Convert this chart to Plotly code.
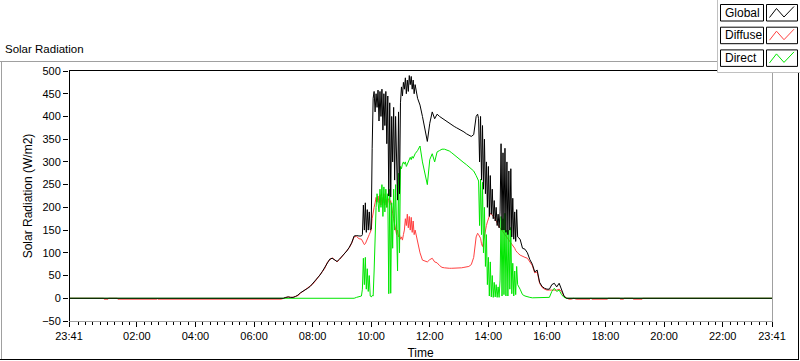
import plotly.graph_objects as go
import pandas as pd

DAY = "2024-01-02"
PREV = "2024-01-01"

# ---- day-time sampling segments: (start, step in minutes, count) ----
SEGMENTS = [("07:00", 5, 32), ("09:40", 2, 55), ("11:30", 5, 26), ("13:38", 2, 41), ("15:00", 5, 25)]

# ---- Global radiation (W/m2) ----
global_a = [0,2,3,2,2,4,7,12,15,18,22,26,32,38,44,51,59,68,80,86,88,84,81,86,92,97,104,112,122,137,138,137]
global_b = [137,140,205,150,210,145,195,150,190,150,
            152,330,440,455,410,450,420,458,390,455,
            400,460,370,450,380,455,340,445,225,430,
            223,400,300,420,260,400,300,216,410,230,
            430,465,445,475,460,485,450,480,455,490,
            470,488,460,480,450]
global_c = [470,440,425,400,370,345,385,410,395,405,400,396,392,388,385,382,378,375,372,370,366,362,358,356,360,400]
global_d = [405,395,300,400,260,380,240,350,230,300,
            200,290,180,270,185,240,175,215,170,200,
            160,185,155,190,340,150,320,150,330,145,
            300,140,280,150,285,135,220,130,190,125,
            195]
global_e = [135,130,110,108,100,85,75,58,62,35,26,22,20,20,30,33,25,33,20,5,0,0,0,0,0]

# ---- Diffuse radiation (W/m2) ----
diffuse_a = [0,2,3,2,2,4,6,11,15,18,21,26,31,37,44,50,58,66,79,85,89,85,80,85,91,97,104,111,121,135,136,131]
diffuse_b = [130,125,120,118,120,124,130,135,140,145,
             150,175,194,200,210,222,212,225,210,228,
             205,222,210,230,205,218,200,220,215,205,
             215,195,187,175,165,150,140,150,135,140,
             130,135,128,140,150,175,160,185,155,180,
             150,178,145,170,140]
diffuse_c = [150,125,100,84,82,80,85,88,80,78,72,68,67,66,66,66,66,66,67,67,68,69,70,74,90,135]
diffuse_d = [143,140,136,132,120,114,125,140,152,160,
             168,175,182,187,185,183,180,178,175,170,
             165,160,157,155,152,148,145,142,140,136,
             134,130,128,126,122,118,115,112,110,105,
             102]
diffuse_e = [100,95,92,90,88,80,72,56,58,33,24,20,18,18,18,18,18,20,15,4,0,-2,-2,0,-2]

# ---- Direct radiation (W/m2) ----
direct_a = [1,1,1,1,1,1,1,1,1,1,0,0,0,0,0,0,0,0,0,0,0,0,0,0,0,0,0,0,0,0,2,4]
direct_b = [5,20,88,30,90,20,65,15,50,5,
            3,6,5,60,150,200,230,210,190,240,
            200,250,180,245,190,240,200,230,10,240,
            11,210,110,240,150,250,170,60,275,100,
            290,285,295,300,295,300,290,295,300,305,
            310,305,312,308,315]
direct_c = [318,325,335,300,275,250,305,318,300,322,325,328,328,326,324,320,316,311,306,302,298,294,290,285,280,270]
direct_d = [262,258,160,262,140,255,100,200,70,140,
            30,90,5,80,3,50,2,35,3,30,
            2,25,2,40,180,5,175,8,187,5,
            150,5,150,20,156,10,77,5,60,8,
            70]
direct_e = [30,20,8,5,3,2,1,1,1,1,1,1,1,2,15,22,15,18,8,2,0,0,0,0,0]

# ---- night-time readings ----
night_am_times = [f"{PREV} 23:41", f"{DAY} 06:55"]
night_am_values = [0, 0]
night_pm_times = [f"{DAY} 17:05", f"{DAY} 23:41"]
night_pm_values = [0, 0]

diffuse_am_times = [f"{PREV} 23:41"] + [f"{DAY} {t}" for t in
                    ["00:52","00:53","01:01","01:02","01:20","01:21","02:41","02:42","02:43","06:55"]]
diffuse_am_values = [0,0,-2,-2,0,0,-2,-2,0,-2,-2]
diffuse_pm_times = [f"{DAY} {t}" for t in
                    ["17:05","17:28","17:29","17:31","17:32","18:04","18:05","18:29","18:30",
                     "18:37","18:38","18:56","18:57","19:15","19:16","23:41"]]
diffuse_pm_values = [-2,-2,0,0,-2,-2,0,0,-2,-2,0,0,-2,-2,0,0]

# ---- axis ticks ----
x_tick_times = [f"{PREV} 23:41"] + [f"{DAY} {h:02d}:00" for h in range(2, 23, 2)] + [f"{DAY} 23:41"]
x_tick_labels = ["23:41", "02:00", "04:00", "06:00", "08:00", "10:00", "12:00",
                 "14:00", "16:00", "18:00", "20:00", "22:00", "23:41"]
X_RANGE = [f"{PREV} 23:41", f"{DAY} 23:41"]
Y_RANGE = [-50, 500]


def day_times():
    out = []
    for start, step, n in SEGMENTS:
        t0 = pd.Timestamp(f"{DAY} {start}")
        out += [t0 + pd.Timedelta(minutes=step * i) for i in range(n)]
    return out


DT = day_times()
g_day = global_a + global_b + global_c + global_d + global_e
d_day = diffuse_a + diffuse_b + diffuse_c + diffuse_d + diffuse_e
b_day = direct_a + direct_b + direct_c + direct_d + direct_e
assert len(DT) == len(g_day) == len(d_day) == len(b_day)

to_ts = lambda lst: [pd.Timestamp(t) for t in lst]

fig = go.Figure()
fig.add_trace(go.Scatter(x=to_ts(diffuse_am_times) + DT + to_ts(diffuse_pm_times),
                         y=diffuse_am_values + d_day + diffuse_pm_values,
                         mode="lines", name="Diffuse", line=dict(color="#ff4040", width=1)))
fig.add_trace(go.Scatter(x=to_ts(night_am_times) + DT + to_ts(night_pm_times),
                         y=night_am_values + b_day + night_pm_values,
                         mode="lines", name="Direct", line=dict(color="#00e600", width=1)))
fig.add_trace(go.Scatter(x=to_ts(night_am_times) + DT + to_ts(night_pm_times),
                         y=night_am_values + g_day + night_pm_values,
                         mode="lines", name="Global", line=dict(color="#000000", width=1)))

# ---- layout geometry (pixels) ----
W, H = 800, 361
L, R, T, B = 69, 28, 71, 40
PW, PH = W - L - R, H - T - B


def px(x):
    return (x - L) / PW


def py(y):
    return (H - B - y) / PH


def line(x0, y0, x1, y1, color, width=1):
    return dict(type="line", xref="paper", yref="paper", x0=px(x0), y0=py(y0), x1=px(x1), y1=py(y1),
                line=dict(color=color, width=width), layer="above")


GRAY = "#a0a0a0"
shapes = [
    # outer panel
    line(0, 61.5, 717, 61.5, GRAY),
    line(1.5, 61.5, 1.5, 360, GRAY),
    line(0, 359.5, 799, 359.5, "#000000"),
    line(798.5, 72, 798.5, 360, "#000000"),
    # plot frame
    line(69, 70.5, 772.5, 70.5, "#000000"),
    line(69.5, 70.5, 69.5, 321.5, "#000000"),
    line(772.5, 70.5, 772.5, 321.5, GRAY),
    line(69.5, 321.5, 773, 321.5, GRAY),
    # legend panel
    dict(type="rect", xref="paper", yref="paper", x0=px(717.5), y0=py(72.5), x1=px(801), y1=py(-1),
         fillcolor="white", line=dict(width=0), layer="above"),
    line(717.5, 0, 717.5, 72.5, "#c0c0c0"),
    line(717.5, 72.5, 800, 72.5, "#c0c0c0"),
]

annotations = [
    dict(text="Solar Radiation", xref="paper", yref="paper", x=px(3), y=py(49.5), xanchor="left",
         yanchor="middle", showarrow=False, font=dict(size=11.5, color="black")),
]

legend_items = [("Global", "#000000"), ("Diffuse", "#ff4040"), ("Direct", "#00e600")]
for i, (name, color) in enumerate(legend_items):
    dy = i * 22.7
    top, bot = 4.5 + dy, 21 + dy
    shapes.append(dict(type="rect", xref="paper", yref="paper", x0=px(720.5), x1=px(763.5), y0=py(bot), y1=py(top),
                       fillcolor="white", line=dict(color="#000000", width=1), layer="above"))
    shapes.append(dict(type="rect", xref="paper", yref="paper", x0=px(766.5), x1=px(797.5), y0=py(bot), y1=py(top),
                       fillcolor="white", line=dict(color="#000000", width=1), layer="above"))
    pts = [(769.5, 17.5 + dy), (776.5, 8.5 + dy), (784, 17 + dy), (794, 6.5 + dy)]
    path = "M " + " L ".join(f"{px(a):.5f},{py(b):.5f}" for a, b in pts)
    shapes.append(dict(type="path", xref="paper", yref="paper", path=path,
                       line=dict(color=color, width=1), layer="above"))
    annotations.append(dict(text=name, xref="paper", yref="paper", x=px(722.5), y=py((top + bot) / 2),
                            xanchor="left", yanchor="middle", showarrow=False,
                            font=dict(size=12, color="black")))

minor_ticks = [t for t in pd.date_range(f"{DAY} 00:00", f"{DAY} 23:30", freq="15min")]

fig.update_layout(
    width=W, height=H, margin=dict(l=L, r=R, t=T, b=B, pad=0),
    paper_bgcolor="white", plot_bgcolor="white", showlegend=False,
    font=dict(family="Liberation Sans, Arial, sans-serif", size=11, color="black"),
    shapes=shapes, annotations=annotations,
    xaxis=dict(type="date", range=X_RANGE, tickmode="array", tickvals=x_tick_times, ticktext=x_tick_labels,
               ticks="outside", ticklen=5, tickwidth=1, tickcolor="black", showgrid=False, showline=False,
               zeroline=False, automargin=False, tickfont=dict(size=11),
               title=dict(text="Time", font=dict(size=12), standoff=7),
               minor=dict(tickmode="array", tickvals=minor_ticks, ticks="outside", ticklen=3,
                          tickwidth=1, tickcolor="black", showgrid=False)),
    yaxis=dict(range=Y_RANGE, tickmode="linear", tick0=-50, dtick=50, ticks="outside", ticklen=5,
               tickwidth=1, tickcolor="black", showgrid=False, showline=False, zeroline=False,
               automargin=False, tickfont=dict(size=11),
               title=dict(text="Solar Radiation (W/m2)", font=dict(size=12), standoff=6)),
)

fig.write_html("out.html", config={"displayModeBar": False},
               post_script="document.body.style.margin='0';document.body.style.overflow='hidden';")
